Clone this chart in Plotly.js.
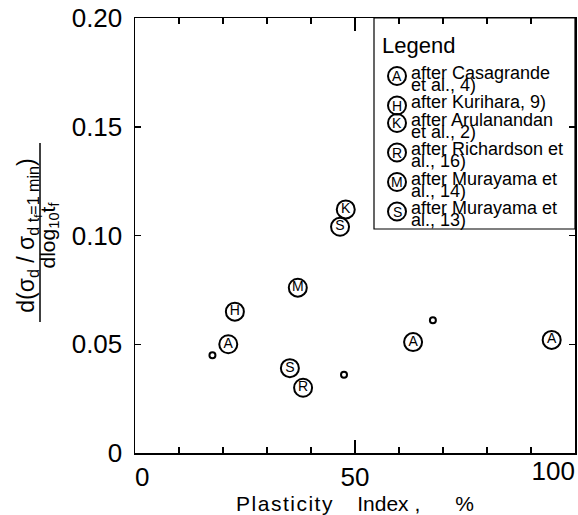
<!DOCTYPE html>
<html>
<head>
<meta charset="utf-8">
<script src="https://cdn.plot.ly/plotly-3.0.1.min.js"></script>
<style>
  html, body { margin: 0; padding: 0; background: #fff; }
  #chart { width: 578px; height: 515px; }
</style>
</head>
<body>
<div id="chart"></div>
<script>
// Rate of strength gain per log cycle of time against plasticity index

// --- data -------------------------------------------------------------
const letters = ['A', 'H', 'K', 'R', 'M', 'S'];
const sourceLines = [
  ['after Casagrande', 'et al., 4)'],
  ['after Kurihara, 9)'],
  ['after Arulanandan', 'et al., 2)'],
  ['after Richardson et', 'al., 16)'],
  ['after Murayama et', 'al., 14)'],
  ['after Murayama et', 'al., 13)']
];

const casagrandePI = [21.2, 63.2, 94.7];
const casagrandeRate = [0.050, 0.051, 0.052];
const kuriharaPI = [22.7];
const kuriharaRate = [0.065];
const arulanandanPI = [47.9];
const arulanandanRate = [0.112];
const richardsonPI = [38.2];
const richardsonRate = [0.030];
const murayama14PI = [37.0];
const murayama14Rate = [0.076];
const murayama13PI = [35.2, 46.6];
const murayama13Rate = [0.039, 0.104];
// points without a source mark
const otherPI = [17.6, 47.5, 67.7];
const otherRate = [0.045, 0.036, 0.061];

const xTickVals = [0, 50];
const xTickText = ['\u00a0\u00a00', '50'];
const xEndTickVals = [100];
const xEndTickText = ['100'];
const xMinorVals = [10, 20, 30, 40, 60, 70, 80, 90];
const yTickVals = [0, 0.05, 0.10, 0.15, 0.20];
const yTickText = ['0', '0.05', '0.10', '0.15', '0.20'];

// --- geometry ---------------------------------------------------------
const W = 578, H = 515;
const ML = 135, MR = 3, MT = 18, MB = 62;
const PW = W - ML - MR, PH = H - MT - MB;
const px = v => (v - ML) / PW;          // page x (px) -> paper
const py = v => (MT + PH - v) / PH;     // page y (px) -> paper

const FONT = 'Liberation Sans, Arial, sans-serif';
const INK = '#000';

// --- traces -----------------------------------------------------------
const series = [
  [casagrandePI, casagrandeRate],
  [kuriharaPI, kuriharaRate],
  [arulanandanPI, arulanandanRate],
  [richardsonPI, richardsonRate],
  [murayama14PI, murayama14Rate],
  [murayama13PI, murayama13Rate]
];

const traces = [{
  type: 'scatter', mode: 'markers',
  x: otherPI, y: otherRate, xaxis: 'x2', yaxis: 'y',
  marker: { symbol: 'circle-open', size: 6, color: INK, line: { width: 2 } },
  showlegend: false, hoverinfo: 'skip', cliponaxis: false
}];

series.forEach(([xs, ys], i) => {
  traces.push({
    type: 'scatter', mode: 'markers+text',
    name: sourceLines[i].join(' '),
    x: xs, y: ys,
    text: xs.map(() => letters[i]),
    textposition: 'middle center',
    textfont: { family: FONT, size: 14, color: INK },
    marker: { symbol: 'circle-open', size: 18, color: INK, line: { width: 2 } },
    showlegend: false, hoverinfo: 'skip', cliponaxis: false
  });
});

// --- key box (circled letter + source) ----------------------------------
const shapes = [];
const annotations = [];

const keyLeft = 374, keyBottom = 229;
shapes.push({
  type: 'rect', xref: 'paper', yref: 'paper',
  x0: px(keyLeft), x1: 1, y0: py(keyBottom), y1: 1,
  line: { color: INK, width: 1.2 }
});
annotations.push({
  xref: 'paper', yref: 'paper', x: px(382), y: py(52.7 - 0.905 * 22),
  xanchor: 'left', yanchor: 'top', showarrow: false,
  borderwidth: 0, borderpad: 0,
  text: 'Legend', font: { family: FONT, size: 22, color: INK }
});

const keyFont = 18, lineStep = 12, entryGap = 17.5;
let base = 79;
sourceLines.forEach((lines, i) => {
  const cy = base - 3;
  shapes.push({
    type: 'circle', xref: 'paper', yref: 'paper',
    xsizemode: 'pixel', ysizemode: 'pixel',
    xanchor: px(397), yanchor: py(cy),
    x0: -9, x1: 9, y0: -9, y1: 9,
    line: { color: INK, width: 2 }
  });
  annotations.push({
    xref: 'paper', yref: 'paper', x: px(397), y: py(cy),
    xanchor: 'center', yanchor: 'middle', showarrow: false,
    borderwidth: 0, borderpad: 0,
    text: letters[i], font: { family: FONT, size: 14, color: INK }
  });
  // one text block per entry; the small base size sets the tight line pitch
  annotations.push({
    xref: 'paper', yref: 'paper', x: px(411), y: py(base - 0.905 * keyFont),
    xanchor: 'left', yanchor: 'top', align: 'left', showarrow: false,
    borderwidth: 0, borderpad: 0,
    text: lines.map(l => `<span style="font-size:${keyFont}px">${l}</span>`).join('<br>'),
    font: { family: FONT, size: lineStep / 1.3, color: INK }
  });
  base += (lines.length - 1) * lineStep + entryGap;
});

// fraction bar of the y-axis title
shapes.push({
  type: 'line', xref: 'paper', yref: 'paper',
  x0: px(40), x1: px(40), y0: py(143), y1: py(322),
  line: { color: INK, width: 1.5 }
});

const yTitle =
  '<span style="font-size:23px">d(σ<sub>d</sub> / σ<sub>d t<sub>f</sub>=1 min</sub>)</span>' +
  '<br><span style="font-size:21px">dlog<sub>10</sub>t<sub>f</sub></span>';

const xTitle =
  '<span style="letter-spacing:1.5px">Plasticity</span>' +
  '\u00a0\u00a0\u00a0\u00a0Index\u00a0,\u00a0\u00a0\u00a0\u00a0\u00a0\u00a0%';

const axisCommon = {
  showgrid: false, zeroline: false,
  showline: true, linecolor: INK, linewidth: 1.5,
  mirror: 'ticks', ticks: 'inside', tickcolor: INK, tickwidth: 1.5,
  tickfont: { family: FONT, size: 26, color: INK },
  fixedrange: true
};

const layout = {
  width: W, height: H,
  margin: { l: ML, r: MR, t: MT, b: MB },
  paper_bgcolor: '#fff', plot_bgcolor: '#fff',
  font: { family: FONT, color: INK },
  showlegend: false,
  xaxis: Object.assign({}, axisCommon, {
    range: [0, 100],
    tickmode: 'array', tickvals: xTickVals, ticktext: xTickText,
    ticklen: 13,
    minor: { tickmode: 'array', tickvals: xMinorVals, ticks: 'inside',
             ticklen: 6, tickwidth: 1.5, tickcolor: INK, showgrid: false },
    title: { text: xTitle, font: { family: FONT, size: 21, color: INK }, standoff: 12 }
  }),
  // end label of the x scale, set flush against the right frame
  xaxis2: {
    overlaying: 'x', matches: 'x', anchor: 'y', side: 'bottom',
    range: [0, 100], showgrid: false, zeroline: false, showline: false,
    ticks: '', tickmode: 'array', tickvals: xEndTickVals, ticktext: xEndTickText,
    ticklabelposition: 'outside left',
    tickfont: { family: FONT, size: 26, color: INK }, fixedrange: true
  },
  yaxis: Object.assign({}, axisCommon, {
    range: [0, 0.2],
    tickmode: 'array', tickvals: yTickVals, ticktext: yTickText,
    ticklen: 6, ticklabelstandoff: 6,
    title: { text: yTitle, font: { family: FONT, size: 16, color: INK }, standoff: 12 }
  }),
  shapes: shapes,
  annotations: annotations
};

Plotly.newPlot('chart', traces, layout, { displayModeBar: false, staticPlot: true });
</script>
</body>
</html>
